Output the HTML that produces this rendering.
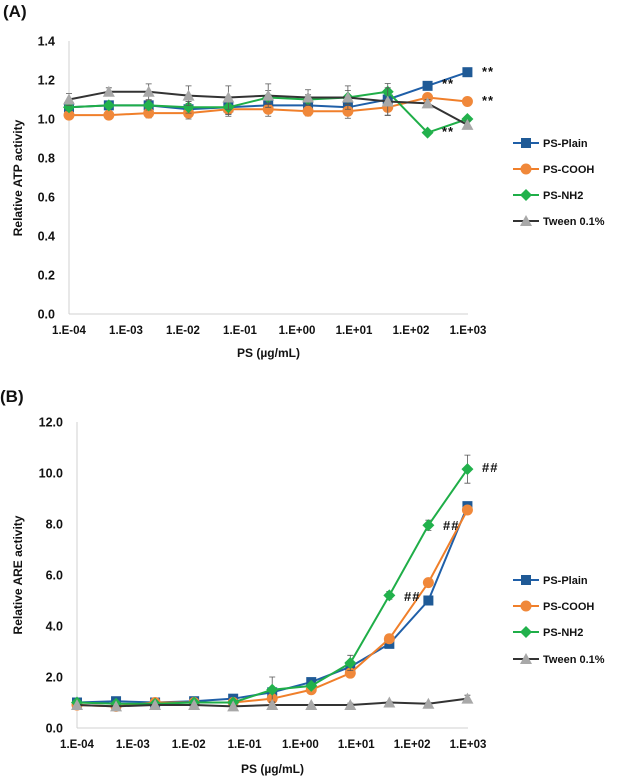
<!DOCTYPE html>
<html><head><meta charset="utf-8"><style>
body{margin:0;background:#fff;}
svg text{font-family:"Liberation Sans",Arial,sans-serif;font-weight:bold;fill:#111;}
</style></head><body>
<svg id="c" width="622" height="779" xmlns="http://www.w3.org/2000/svg"></svg>
<script>
const concentrations=[0.0001,0.0005,0.0025,0.0125,0.0625,0.3125,1.5625,7.8125,39.0625,195.3125,976.5625];
const xTickLabels=["1.E-04","1.E-03","1.E-02","1.E-01","1.E+00","1.E+01","1.E+02","1.E+03"];
const seriesNames=["PS-Plain","PS-COOH","PS-NH2","Tween 0.1%"];
const atpPlain=[1.06,1.07,1.07,1.05,1.06,1.07,1.07,1.06,1.10,1.17,1.24];
const atpCOOH=[1.02,1.02,1.03,1.03,1.05,1.05,1.04,1.04,1.06,1.11,1.09];
const atpNH2=[1.06,1.07,1.07,1.06,1.06,1.11,1.10,1.11,1.14,0.93,1.00];
const atpTween=[1.10,1.14,1.14,1.12,1.11,1.12,1.11,1.11,1.09,1.08,0.97];
const atpErr=[0.03,0.02,0.04,0.05,0.06,0.06,0.04,0.06,0.07,0.02,0.02];
const atpTicks=[0,0.2,0.4,0.6,0.8,1.0,1.2,1.4];
const areNH2=[1.0,0.95,0.95,1.0,1.0,1.5,1.65,2.55,5.2,7.95,10.15];
const arePlain=[1.0,1.05,1.0,1.05,1.15,1.4,1.8,2.4,3.3,5.0,8.7];
const areCOOH=[0.9,0.85,1.0,1.0,1.0,1.15,1.5,2.15,3.5,5.7,8.55];
const areTween=[0.9,0.85,0.9,0.9,0.85,0.9,0.9,0.9,1.0,0.95,1.15];
const areErr=[0.05,0.05,0.05,0.05,0.05,0.5,0.1,0.3,0.15,0.2,0.55];
const areTicks=[0,2,4,6,8,10,12];
const colors=["#1f5fa8","#f07f2a","#1fae48","#333333"];
const markerColors=["#1f5a96","#f0883a","#22b14c","#a8a8a8"];
const svg=document.getElementById('c');
const NS="http://www.w3.org/2000/svg";
function el(tag,attrs,parent){const e=document.createElementNS(NS,tag);for(const k in attrs)e.setAttribute(k,attrs[k]);(parent||svg).appendChild(e);return e;}
function txt(s,attrs,parent){const e=el('text',attrs,parent);e.textContent=s;return e;}
function marker(kind,x,y,col,g){
  if(kind===0)return el('rect',{x:x-5,y:y-5,width:10,height:10,fill:col},g);
  if(kind===1)return el('circle',{cx:x,cy:y,r:5.5,fill:col},g);
  if(kind===2)return el('polygon',{points:`${x},${y-6} ${x+6},${y} ${x},${y+6} ${x-6},${y}`,fill:col},g);
  return el('polygon',{points:`${x},${y-6} ${x+6},${y+5} ${x-6},${y+5}`,fill:col},g);
}
function panel(o){
  const g=el('g',{});
  
  
  const xs=v=>o.x0+(Math.log10(v)+4)/7*(o.x1-o.x0);
  const ys=v=>o.y0-(v-o.ymin)/(o.ymax-o.ymin)*(o.y0-o.y1);
  el('line',{x1:o.x0,y1:o.y1,x2:o.x0,y2:o.y0,stroke:'#d0d0d0','stroke-width':1},g);
  el('line',{x1:o.x0,y1:o.y0,x2:o.x1,y2:o.y0,stroke:'#d0d0d0','stroke-width':1},g);
  o.ticks.forEach(t=>{const l=txt(t.toFixed(1),{x:o.x0-14,y:ys(t)+4.5,'text-anchor':'end','font-size':12.5},g);
    });
  xTickLabels.forEach((s,i)=>{const l=txt(s,{x:o.x0+i*(o.x1-o.x0)/7,y:o.y0+20,'text-anchor':'middle','font-size':11.5},g);
    });
  const yt=txt(o.ytitle,{transform:`translate(${o.ytx},${o.yty}) rotate(-90)`,'text-anchor':'middle','font-size':12},g);
  
  const xt=txt(o.xtitle,{x:(o.x0+o.x1)/2,y:o.xty,'text-anchor':'middle','font-size':12},g);
  
  const pl=txt(o.label,{x:o.lx,y:o.ly,'font-size':17},g);
  
  o.series.forEach((s,si)=>{
    const sg=el('g',{},g);
    
    
    s.forEach((v,i)=>{const x=xs(concentrations[i]),e=o.err[i]*(si===o.errSeries?1:o.errScale);
      if(e<=0)return;
      el('path',{d:`M${x},${ys(v-e)}V${ys(v+e)}M${x-3},${ys(v-e)}h6M${x-3},${ys(v+e)}h6`,stroke:'#555','stroke-width':0.8,fill:'none'},sg);});
    el('polyline',{points:s.map((v,i)=>xs(concentrations[i])+','+ys(v)).join(' '),fill:'none',stroke:colors[si],'stroke-width':2},sg);
    s.forEach((v,i)=>{const m=marker(si,xs(concentrations[i]),ys(v),markerColors[si],sg);
      });
  });
  o.annots.forEach(a=>{const t=txt(a[0],{x:a[1],y:a[2],'font-size':13,'letter-spacing':'1'},g);
    });
  seriesNames.forEach((n,i)=>{const y=o.legY[i];
    const lg=el('g',{},g);
    
    
    el('line',{x1:513,y1:y,x2:539,y2:y,stroke:colors[i],'stroke-width':2},lg);
    marker(i,526,y,markerColors[i],lg);
    txt(n,{x:543,y:y+4,'font-size':11},lg);
  });
}
panel({name:'atp-panel',x0:69,x1:468,y0:314,y1:41,ymin:0,ymax:1.4,ticks:atpTicks,
  series:[atpPlain,atpCOOH,atpNH2,atpTween],err:atpErr,errSeries:3,errScale:0.6,
  ytitle:'Relative ATP activity',ytx:22,yty:178,xtitle:'PS  (µg/mL)',xty:357,label:'(A)',lx:3,ly:17,
  annots:[['**',482,76],['**',442,88],['**',482,105],['**',442,136]],legY:[143,169,195,221]});
panel({name:'are-panel',x0:77,x1:468,y0:728,y1:422,ymin:0,ymax:12,ticks:areTicks,
  series:[arePlain,areCOOH,areNH2,areTween],err:areErr,errSeries:2,errScale:0.25,
  ytitle:'Relative ARE activity',ytx:22,yty:575,xtitle:'PS (µg/mL)',xty:773,label:'(B)',lx:0,ly:402,
  annots:[['##',482,472],['##',443,530],['##',404,601]],legY:[580,606,632,659]});
</script>
</body></html>
